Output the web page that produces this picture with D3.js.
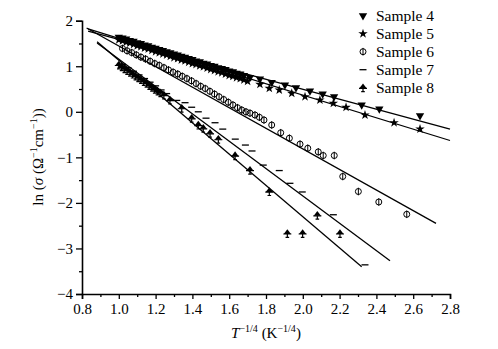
<!DOCTYPE html>
<html><head><meta charset="utf-8">
<script src="https://cdn.jsdelivr.net/npm/d3@7"></script>
<style>
body{margin:0;background:#fff;}
svg text{font-family:"Liberation Serif","Times New Roman","DejaVu Serif",serif;fill:#000;}
</style></head>
<body><svg id="c" width="498" height="349"></svg>
<script>
// ---- data ----
const sample4 = [[1.00,1.64],[1.02,1.62],[1.04,1.60],[1.06,1.57],[1.08,1.55],[1.10,1.52],[1.12,1.50],[1.14,1.47],[1.16,1.45],[1.18,1.42],[1.20,1.40],[1.22,1.37],[1.24,1.35],[1.26,1.32],[1.28,1.30],[1.30,1.27],[1.32,1.25],[1.34,1.22],[1.36,1.20],[1.38,1.17],[1.40,1.15],[1.42,1.12],[1.44,1.10],[1.46,1.07],[1.48,1.05],[1.50,1.02],[1.52,1.00],[1.54,0.97],[1.56,0.95],[1.58,0.93],[1.60,0.90],[1.62,0.88],[1.64,0.85],[1.66,0.83],[1.68,0.80],
  [1.713,0.757],[1.767,0.72],[1.831,0.648],[1.903,0.588],[1.963,0.529],[2.039,0.457],[2.108,0.391],[2.170,0.331],[2.32,0.149],[2.416,0.061],[2.637,-0.086]];
const sample5 = [[1.00,1.58],[1.02,1.56],[1.04,1.53],[1.06,1.51],[1.08,1.48],[1.10,1.45],[1.12,1.43],[1.14,1.40],[1.16,1.38],[1.18,1.35],[1.20,1.32],[1.22,1.30],[1.24,1.27],[1.26,1.25],[1.28,1.22],[1.30,1.19],[1.32,1.17],[1.34,1.14],[1.36,1.12],[1.38,1.09],[1.40,1.06],[1.42,1.04],[1.44,1.01],[1.46,0.99],[1.48,0.96],[1.50,0.93],[1.52,0.91],[1.54,0.88],[1.56,0.86],[1.58,0.83],[1.60,0.80],[1.62,0.78],[1.64,0.75],[1.66,0.73],[1.68,0.70],[1.70,0.67],
  [1.767,0.604],[1.818,0.516],[1.872,0.479],[1.94,0.406],[2.012,0.332],[2.093,0.259],[2.166,0.187],[2.235,0.099],[2.338,-0.07],[2.496,-0.239],[2.637,-0.378]];
const sample6 = [[1.020,1.39],[1.045,1.34],[1.070,1.30],[1.095,1.25],[1.120,1.20],[1.145,1.16],[1.170,1.11],[1.195,1.06],[1.220,1.02],[1.245,0.97],[1.270,0.92],[1.295,0.87],[1.320,0.83],[1.345,0.78],[1.370,0.73],[1.395,0.68],[1.420,0.62],[1.445,0.56],[1.470,0.51],[1.495,0.45],[1.520,0.39],[1.545,0.33],[1.570,0.27],[1.595,0.21],[1.620,0.15],[1.645,0.09],
  [1.668,0.04],[1.691,0.00],[1.713,-0.03],[1.74,-0.07],[1.764,-0.12],[1.789,-0.18],[1.831,-0.29],[1.88,-0.46],[1.927,-0.58],[1.985,-0.71],[2.027,-0.80],[2.084,-0.88],[2.111,-0.96],[2.171,-0.96],[2.217,-1.42],[2.302,-1.75],[2.413,-1.98],[2.565,-2.25]];
const sample7 = [[1.02,1.04],[1.05,0.97],[1.08,0.89],[1.11,0.81],[1.14,0.73],[1.17,0.65],[1.20,0.57],[1.23,0.48],[1.26,0.40],
  [1.315,0.25],[1.36,0.20],[1.396,0.10],[1.432,0.00],[1.474,-0.14],[1.523,-0.24],[1.565,-0.38],[1.633,-0.60],[1.688,-0.73],[1.724,-0.86],[1.785,-1.17],[1.872,-1.29],[1.93,-1.57],[1.997,-1.76],[2.166,-2.26],[2.338,-3.36]];
const sample8 = [[1.000,1.03],[1.015,0.99],[1.030,0.95],[1.045,0.91],[1.060,0.87],[1.075,0.83],[1.090,0.79],[1.105,0.75],[1.120,0.71],[1.135,0.67],[1.150,0.63],[1.165,0.58],[1.180,0.54],[1.195,0.50],[1.210,0.46],[1.225,0.42],[1.245,0.37],
  [1.278,0.26],[1.342,0.08],[1.396,-0.14],[1.432,-0.29],[1.459,-0.36],[1.496,-0.47],[1.541,-0.60],[1.632,-0.96],[1.713,-1.28],[1.818,-1.75],[1.916,-2.67],[1.999,-2.67],[2.079,-2.27],[2.202,-2.67]];
const fit4 = [[0.833,1.77],[2.80,-0.38]];
const fit5 = [[0.833,1.82],[2.80,-0.63]];
const fit6 = [[0.825,1.84],[2.724,-2.45]];
const fit7 = [[0.882,1.51],[2.474,-3.27]];
const fit8 = [[0.882,1.54],[2.32,-3.40]];
const seriesNames = ["Sample 4","Sample 5","Sample 6","Sample 7","Sample 8"];
const xMajor = [0.8,1.0,1.2,1.4,1.6,1.8,2.0,2.2,2.4,2.6,2.8];
const xMinor = [0.9,1.1,1.3,1.5,1.7,1.9,2.1,2.3,2.5,2.7];
const yMajor = [-4,-3,-2,-1,0,1,2];
const yMinor = [-3.5,-2.5,-1.5,-0.5,0.5,1.5];

// ---- drawing ----
const FONT = '"Liberation Serif","Times New Roman","DejaVu Serif",serif';
const svg = d3.select("#c");
const x = d3.scaleLinear().domain([0.8,2.8]).range([82,450]);
const y = d3.scaleLinear().domain([-4,2]).range([294,20.7]);

// axes
const xa = svg.append("g").attr("transform","translate(0,294)");
xa.call(d3.axisBottom(x).tickValues(xMajor).tickFormat(d3.format(".1f")).tickSize(5).tickPadding(4));
const xm = svg.append("g").attr("transform","translate(0,294)");
xm.call(d3.axisBottom(x).tickValues(xMinor).tickFormat("").tickSize(3));
xm.select(".domain").remove();
const ya = svg.append("g").attr("transform","translate(82,0)");
ya.call(d3.axisLeft(y).tickValues(yMajor).tickFormat(d3.format("d")).tickSize(6).tickPadding(3));
const ym = svg.append("g").attr("transform","translate(82,0)");
ym.call(d3.axisLeft(y).tickValues(yMinor).tickFormat("").tickSize(3));
ym.select(".domain").remove();
svg.selectAll("g").attr("font-family",FONT);
svg.selectAll(".domain").attr("stroke","#000").attr("stroke-width",1.6);
svg.selectAll(".tick line").attr("stroke","#000").attr("stroke-width",1.3);
svg.selectAll(".tick text").attr("font-family",FONT).attr("font-size",15).attr("fill","#000");
xa.selectAll(".tick text").attr("dy","0.71em");

// fit lines
const line = d3.line().x(d=>x(d[0])).y(d=>y(d[1]));
[fit4,fit5,fit6,fit7,fit8].forEach(f=>{
  svg.append("path").attr("d",line(f)).attr("fill","none").attr("stroke","#000").attr("stroke-width",1.3);
});

// markers
const triDown = d3.symbol().type(d3.symbolTriangle).size(30)();
const star = d3.symbol().type(d3.symbolStar).size(28)();
function drawMarker(g, kind){
  if(kind===0){ g.append("path").attr("d",triDown).attr("transform","rotate(180)").attr("fill","#000"); }
  else if(kind===1){ g.append("path").attr("d",star).attr("fill","#000"); }
  else if(kind===2){
    g.append("circle").attr("r",3).attr("fill","none").attr("stroke","#000").attr("stroke-width",1);
    g.append("line").attr("x1",0).attr("x2",0).attr("y1",-3.8).attr("y2",3.8).attr("stroke","#000").attr("stroke-width",1);
  }
  else if(kind===3){ g.append("line").attr("x1",-3.5).attr("x2",3.5).attr("y1",0).attr("y2",0).attr("stroke","#000").attr("stroke-width",1.3); }
  else {
    g.append("path").attr("d","M0,-4.2L3.6,0.6L-3.6,0.6Z").attr("fill","#000");
    g.append("path").attr("d","M-4,0.6H4M0,0.6V4.2M-1.8,4H1.8").attr("stroke","#000").attr("stroke-width",1.2).attr("fill","none");
  }
}
[sample4,sample5,sample6,sample7,sample8].forEach((s,i)=>{
  const gs = svg.append("g");
  s.forEach(d=>{
    const g = gs.append("g").attr("transform",`translate(${x(d[0])},${y(d[1])})`);
    drawMarker(g,i);
  });
});

// legend
seriesNames.forEach((n,i)=>{
  const cy = 15.7 + i*18;
  const g = svg.append("g").attr("transform",`translate(363,${cy})`);
  drawMarker(g,i);
  svg.append("text").attr("x",376).attr("y",cy+5.2).attr("font-family",FONT).attr("font-size",15.5).text(n);
});

// x title
const xt = svg.append("text").attr("x",266).attr("y",338).attr("text-anchor","middle").attr("font-family",FONT).attr("font-size",15);
xt.append("tspan").attr("font-style","italic").text("T");
xt.append("tspan").attr("dy",-6).attr("font-size",10).text("−1/4");
xt.append("tspan").attr("dy",6).text(" (K");
xt.append("tspan").attr("dy",-6).attr("font-size",10).text("−1/4");
xt.append("tspan").attr("dy",6).text(")");

// y title
const yt = svg.append("text").attr("transform","translate(43,157) rotate(-90)").attr("text-anchor","middle").attr("font-family",FONT).attr("font-size",15);
yt.append("tspan").text("ln (");
yt.append("tspan").attr("font-style","italic").text("σ");
yt.append("tspan").text(" (Ω");
yt.append("tspan").attr("dy",-6).attr("font-size",10).text("−1");
yt.append("tspan").attr("dy",6).text("cm");
yt.append("tspan").attr("dy",-6).attr("font-size",10).text("−1");
yt.append("tspan").attr("dy",6).text("))");
</script></body></html>
